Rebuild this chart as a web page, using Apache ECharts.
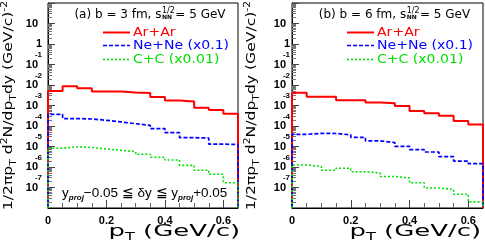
<!DOCTYPE html>
<html><head><meta charset="utf-8">
<script src="https://cdn.jsdelivr.net/npm/echarts@6/dist/echarts.min.js"></script>
<style>html,body{margin:0;padding:0;background:#fff}#c{width:485px;height:242px}</style>
</head><body><div id="c"></div>
<script>
// ---- data (pT bins of 0.05 GeV/c, lower edges) ----
const ptLow = [0, 0.05, 0.10, 0.15, 0.20, 0.25, 0.30, 0.35, 0.40, 0.45, 0.50, 0.55, 0.60];
const binWidth = 0.05;
// panel (a): b = 3 fm
const arAr_b3 = [5.1e-3, 8.7e-3, 6.9e-3, 4.8e-3, 4.8e-3, 4.3e-3, 4.1e-3, 2.6e-3, 1.75e-3, 1.57e-3, 7.8e-4, 6.0e-4, 4.0e-4];
const neNe_b3 = [3.7e-4, 2.3e-4, 2.2e-4, 1.9e-4, 1.58e-4, 1.29e-4, 1.08e-4, 7.4e-5, 4.7e-5, 2.7e-5, 2.6e-5, 1.3e-5, 1.25e-5];
const cC_b3   = [8.2e-6, 9.8e-6, 8.9e-6, 7.6e-6, 6.5e-6, 5.6e-6, 4.2e-6, 3.0e-6, 2.2e-6, 1.2e-6, 7.0e-7, 4.4e-7, 1.7e-7];
// panel (b): b = 6 fm
const arAr_b6 = [4.2e-3, 2.7e-3, 2.7e-3, 1.8e-3, 1.8e-3, 1.4e-3, 1.29e-3, 9.5e-4, 5.4e-4, 4.2e-4, 3.2e-4, 1.75e-4, 1.2e-4];
const neNe_b6 = [3.9e-5, 4.4e-5, 4.3e-5, 3.7e-5, 2.8e-5, 1.9e-5, 1.55e-5, 1.02e-5, 7.1e-6, 5.4e-6, 3.2e-6, 1.95e-6, 1.45e-6];
const cC_b6   = [1.26e-6, 1.05e-6, 6.9e-7, 8.7e-7, 5.9e-7, 5.1e-7, 3.45e-7, 2.9e-7, 1.7e-7, 9.5e-8, 8.1e-8, 4.7e-8, 2.0e-8];
const seriesNames = ['Ar+Ar', 'Ne+Ne (x0.1)', 'C+C (x0.01)'];
const xTickLabels = [0, 0.2, 0.4, 0.6];
const yMin = 1e-8, yMax = 100, xMin = 0, xMax = 0.65;

// ---- helpers ----
function histOutline(vals) {
  const pts = [[ptLow[0], yMin]];
  vals.forEach((v, i) => { pts.push([ptLow[i], v]); pts.push([ptLow[i] + binWidth, v]); });
  pts.push([ptLow[ptLow.length - 1] + binWidth, yMin]);
  return pts;
}
const colors = ['#ff0000', '#0000ff', '#00e000'];
const lineStyles = [
  {color: colors[0], width: 2, type: 'solid'},
  {color: colors[1], width: 1.7, type: [4, 2]},
  {color: colors[2], width: 1.6, type: [2, 2]}
];
const FF = 'DejaVu Sans', FL = 'Liberation Sans';

const minorLog = [];
for (let n = -8; n < 2; n++) for (let k = 2; k <= 9; k++) minorLog.push(n + Math.log10(k));
const minorX = [];
for (let i = 1; i <= 12; i++) { const v = +(i * 0.05).toFixed(2); if (Math.abs(v / 0.2 - Math.round(v / 0.2)) > 1e-6) minorX.push(v); }

function yLabel(v) {
  const e = Math.round(Math.log10(v));
  if (e === 2) return '';
  if (e === 0) return '{one|1}';
  if (e === 1) return '{b|10}';
  return '{s|' + e + '}\n{b|10}\n{e| }';
}
const yRich = {
  one: {fontSize: 11, fontWeight: 'bold', fontFamily: FL, lineHeight: 11, color: '#000'},
  b: {fontSize: 11, fontWeight: 'bold', fontFamily: FL, lineHeight: 11, color: '#000', padding: [0, 4, 0, 0]},
  s: {fontSize: 8, fontWeight: 'bold', fontFamily: FL, lineHeight: 8, color: '#000', padding: [0, 0, 0, 2]},
  e: {fontSize: 8, fontFamily: FL, lineHeight: 8}
};

const grids = [
  {left: 48, top: 3, width: 190, height: 205},
  {left: 292, top: 3, width: 191, height: 205}
];
const labelMargins = [6, 2];

const xAxis = [], yAxis = [], series = [];
const panelData = [[arAr_b3, neNe_b3, cC_b3], [arAr_b6, neNe_b6, cC_b6]];
grids.forEach((g, p) => {
  xAxis.push({
    type: 'value', gridIndex: p, min: xMin, max: xMax, interval: 0.2, position: 'bottom',
    axisLine: {show: true, onZero: false, lineStyle: {color: '#000', width: 1}},
    axisTick: {inside: true, length: 8, lineStyle: {color: '#444'}},
    axisLabel: {
      margin: 7, showMaxLabel: false, color: '#000', fontSize: 11, fontWeight: 'bold', fontFamily: FL,
      formatter: v => (xTickLabels.some(t => Math.abs(t - v) < 1e-9) ? (v === 0 ? '0' : v.toFixed(1)) : '')
    },
    splitLine: {show: false}
  });
  xAxis.push({
    type: 'value', gridIndex: p, min: xMin, max: xMax, position: 'bottom',
    axisLine: {show: false, onZero: false}, axisLabel: {show: false}, splitLine: {show: false},
    axisTick: {show: true, inside: true, length: 5, customValues: minorX, lineStyle: {color: '#666'}}
  });
  yAxis.push({
    type: 'log', logBase: 10, gridIndex: p, min: yMin, max: yMax, interval: 1, splitNumber: 10, position: 'left',
    axisLine: {show: true, onZero: false, lineStyle: {color: '#000', width: 1}},
    axisTick: {inside: true, length: 7, lineStyle: {color: '#444'}},
    axisLabel: {margin: labelMargins[p], formatter: yLabel, rich: yRich, align: 'right'},
    splitLine: {show: false}, minorTick: {show: false}
  });
  yAxis.push({
    type: 'value', gridIndex: p, min: -8, max: 2, position: 'left',
    axisLine: {show: false, onZero: false}, axisLabel: {show: false}, splitLine: {show: false},
    axisTick: {show: true, inside: true, length: 4, customValues: minorLog, lineStyle: {color: '#777'}}
  });
  panelData[p].forEach((vals, k) => {
    series.push({
      type: 'line', name: seriesNames[k], xAxisIndex: p * 2, yAxisIndex: p * 2,
      data: histOutline(vals), symbol: 'none', showSymbol: false, smooth: false,
      lineStyle: lineStyles[k], itemStyle: {color: colors[k]}, silent: true, clip: true, z: 3
    });
  });
});

// ---- texts ----
const mctx = document.createElement('canvas').getContext('2d');
function measure(t, size, fam, weight) { mctx.font = (weight || 'normal') + ' ' + size + 'px "' + fam + '"'; return mctx.measureText(t).width; }
const graphic = [];
function addTitle(cx, part1) {
  const part2 = '= 5 GeV';
  const w1 = measure(part1, 12, FF), ws = measure('1/2', 8, FF) + 1, w2 = measure(part2, 12, FF);
  const x0 = cx - (w1 + ws + w2) / 2;
  graphic.push({type: 'text', x: x0, y: 15, silent: true, style: {text: part1, fontSize: 12, fontFamily: FF, fill: '#000', align: 'left', verticalAlign: 'middle'}});
  graphic.push({type: 'text', x: x0 + w1 + 0.5, y: 10.5, silent: true, style: {text: '1/2', fontSize: 8, fontFamily: FF, fill: '#000', align: 'left', verticalAlign: 'middle'}});
  graphic.push({type: 'text', x: x0 + w1 + 0.5, y: 17, silent: true, style: {text: 'NN', fontSize: 6, fontWeight: 'bold', fontFamily: FF, fill: '#000', align: 'left', verticalAlign: 'middle'}});
  graphic.push({type: 'text', x: x0 + w1 + ws, y: 15, silent: true, style: {text: part2, fontSize: 12, fontFamily: FF, fill: '#000', align: 'left', verticalAlign: 'middle'}});
}
addTitle(150, '(a) b = 3 fm, s');
addTitle(394.5, '(b) b = 6 fm, s');

// legends (drawn as line samples + coloured labels)
const legendRows = [32.5, 45.5, 59.5];
[[103, 133], [347, 377]].forEach(([lx, tx]) => {
  seriesNames.forEach((n, k) => {
    const ls = lineStyles[k];
    graphic.push({type: 'line', silent: true, shape: {x1: lx, y1: legendRows[k], x2: lx + 27, y2: legendRows[k]},
      style: {stroke: ls.color, lineWidth: ls.width, lineDash: Array.isArray(ls.type) ? ls.type : null}});
    graphic.push({type: 'text', x: tx, y: legendRows[k], scaleX: 1.08, silent: true,
      style: {text: n, fontSize: 13, fontFamily: FF, fill: colors[k], align: 'left', verticalAlign: 'middle'}});
  });
});

const yTitleRich = {
  sub: {fontSize: 9, fontFamily: FF, lineHeight: 9, verticalAlign: 'bottom'},
  sup: {fontSize: 9, fontFamily: FF, lineHeight: 9, verticalAlign: 'top'}
};
[9, 252].forEach(x => {
  graphic.push({
    type: 'text', x: x, y: 105.5, rotation: Math.PI / 2, scaleX: 1.2, silent: true,
    style: {text: '1/2πp{sub|T} d{sup|2}N/dp{sub|T}dy (GeV/c){sup|-2}', fontSize: 13, fontFamily: FF, lineHeight: 18,
      fill: '#000', align: 'center', verticalAlign: 'middle', rich: yTitleRich}
  });
});
[240, 481].forEach(x => {
  graphic.push({
    type: 'text', x: x, y: 232, scaleX: 1.62, silent: true,
    style: {text: 'p{sub|T} (GeV/c)', fontSize: 16, fontFamily: FF, lineHeight: 20, fill: '#000', align: 'right', verticalAlign: 'middle',
      rich: {sub: {fontSize: 10, fontFamily: FF, lineHeight: 10, verticalAlign: 'bottom'}}}
  });
});
graphic.push({
  type: 'text', x: 62, y: 193, silent: true,
  style: {text: 'y{p|proj}−0.05 ≦ δy ≦ y{p|proj}+0.05', fontSize: 13.5, fontFamily: FL, lineHeight: 18, fill: '#000', align: 'left', verticalAlign: 'middle',
    rich: {p: {fontSize: 8, fontFamily: FL, fontStyle: 'italic', fontWeight: 'bold', lineHeight: 9, verticalAlign: 'bottom'}}}
});

const chart = echarts.init(document.getElementById('c'), null, {renderer: 'canvas'});
chart.setOption({
  animation: false,
  backgroundColor: '#fff',
  grid: grids.map(g => Object.assign({show: true, borderColor: '#000', borderWidth: 1, backgroundColor: 'transparent', containLabel: false, outerBoundsMode: 'none'}, g)),
  xAxis, yAxis, series, graphic
});
</script>
</body></html>
